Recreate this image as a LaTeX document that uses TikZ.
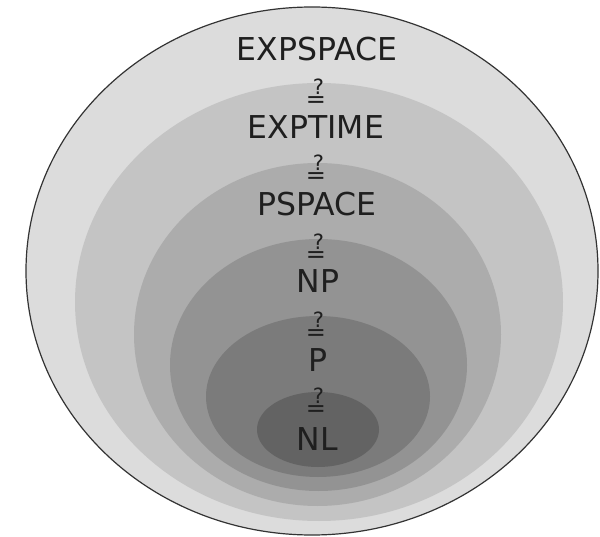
\documentclass[tikz,border=0pt]{standalone}
\usepackage{fontspec}
\setmainfont{DejaVu Sans}
\definecolor{gA}{HTML}{DCDCDC}
\definecolor{gB}{HTML}{C4C4C4}
\definecolor{gC}{HTML}{ACACAC}
\definecolor{gD}{HTML}{939393}
\definecolor{gE}{HTML}{7B7B7B}
\definecolor{gF}{HTML}{636363}
\newcommand{\qeq}{\setlength{\lineskip}{2.5pt}\shortstack{{\fontsize{21pt}{21pt}\selectfont\kern 5pt ?}\\=}}
\begin{document}
\begin{tikzpicture}[x=1pt,y=-1pt,
  lbl/.style={anchor=base,inner sep=0pt,font=\fontsize{31.5pt}{36pt}\selectfont,text=black!88},
  qlbl/.style={anchor=base,inner sep=0pt,font=\fontsize{24pt}{28pt}\selectfont,text=black!88}]
\useasboundingbox (0,0) rectangle (600,537);
\fill[gA] (312,271) ellipse [x radius=286pt,y radius=264pt];
\fill[gB] (319,302) ellipse [x radius=244pt,y radius=219pt];
\fill[gC] (317.5,334.5) ellipse [x radius=183.5pt,y radius=171.5pt];
\fill[gD] (318.5,365) ellipse [x radius=148.5pt,y radius=126pt];
\fill[gE] (318,396.5) ellipse [x radius=112pt,y radius=80.5pt];
\fill[gF] (318,429.5) ellipse [x radius=61pt,y radius=37.5pt];
\draw[black!80,line width=1.2pt] (312,271) ellipse [x radius=286pt,y radius=264pt];
\node[lbl] (expspace) at (317,60.5) {EXPSPACE};
\node[qlbl] (q1) at (316,108) {\qeq};
\node[lbl] (exptime) at (316,139) {EXPTIME};
\node[qlbl] (q2) at (316,184) {\qeq};
\node[lbl] (pspace) at (317,216) {PSPACE};
\node[qlbl] (q3) at (316,263) {\qeq};
\node[lbl] (np) at (318,293) {NP};
\node[qlbl] (q4) at (316,341) {\qeq};
\node[lbl] (p) at (318,371) {P};
\node[qlbl] (q5) at (316,417) {\qeq};
\node[lbl] (nl) at (317,450) {NL};
\end{tikzpicture}
\end{document}
